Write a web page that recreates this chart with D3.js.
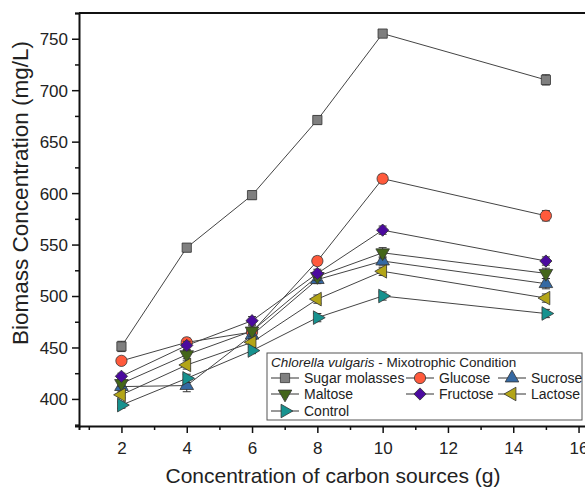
<!DOCTYPE html>
<html>
<head>
<meta charset="utf-8">
<script src="https://cdn.jsdelivr.net/npm/d3@7"></script>
<style>
  body { margin: 0; background: #fff; }
  svg { display: block; font-family: "Liberation Sans", Arial, sans-serif; }
</style>
</head>
<body>
<div id="chart"></div>
<script>
// concentrations (g)
const conc = [2, 4, 6, 8, 10, 15];

const seriesNames = ["Sugar molasses", "Glucose", "Sucrose", "Maltose", "Fructose", "Lactose", "Control"];

const sugarMolasses = [451, 547, 598, 671, 755, 710];
const glucose       = [437, 455, 465, 534, 614, 578];
const sucrose       = [412, 413, 462, 516, 534, 512];
const maltose       = [415, 443, 466, 519, 542, 522];
const fructose      = [422, 452, 476, 522, 564, 534];
const lactose       = [404, 433, 455, 497, 524, 498];
const control       = [394, 420, 447, 479, 500, 483];

const errSugar    = [5, 4, 4, 4, 3, 5];
const errGlucose  = [3, 4, 3, 4, 4, 5];
const errSucrose  = [3, 6, 4, 4, 4, 5];
const errMaltose  = [3, 4, 5, 4, 5, 5];
const errFructose = [3, 4, 4, 4, 4, 4];
const errLactose  = [3, 4, 4, 4, 4, 4];
const errControl  = [3, 4, 3, 4, 4, 4];

const yTicks = [400, 450, 500, 550, 600, 650, 700, 750];
const xTicks = [2, 4, 6, 8, 10, 12, 14, 16];

const W = 585, H = 490;
const m = {left: 79, top: 13, bottom: 64};

const styles = [
    {fill: "#7f7f7f", type: d3.symbolSquare, size: 85, rot: 0},
    {fill: "#ff5a3c", type: d3.symbolCircle, size: 100, rot: 0},
    {fill: "#3569a3", type: d3.symbolTriangle, size: 80, rot: 0},
    {fill: "#44661a", type: d3.symbolTriangle, size: 80, rot: 180},
    {fill: "#4b0a9e", type: d3.symbolSquare, size: 75, rot: 45},
    {fill: "#b3a517", type: d3.symbolTriangle, size: 80, rot: -90},
    {fill: "#17928f", type: d3.symbolTriangle, size: 80, rot: 90}
];

const values = [sugarMolasses, glucose, sucrose, maltose, fructose, lactose, control];
const errs = [errSugar, errGlucose, errSucrose, errMaltose, errFructose, errLactose, errControl];

const data = seriesNames.map((name, i) => ({
    name: name,
    style: styles[i],
    pts: conc.map((c, j) => ({x: c, y: values[i][j], e: errs[i][j]}))
}));

const x = d3.scaleLinear().domain([0.7, 16.5]).range([m.left, m.left + 15.8 * 32.65]);
const y = d3.scaleLinear().domain([373.7, 775]).range([H - m.bottom, m.top]);

const svg = d3.select("#chart").append("svg")
    .attr("width", W)
    .attr("height", H);

// axes
const gx = svg.append("g")
    .attr("transform", "translate(0," + (H - m.bottom) + ")");
gx.call(d3.axisBottom(x).tickValues(d3.range(1, 17, 1)).tickSize(4).tickFormat(""));
gx.call(g => g.selectAll(".tick").filter(d => d % 2 === 0).select("line").attr("y2", 7));
gx.call(g => g.selectAll(".tick text").remove());
gx.selectAll(".tick").filter(d => xTicks.indexOf(d) > -1)
    .append("text")
    .attr("y", 28)
    .attr("text-anchor", "middle")
    .attr("fill", "#222")
    .style("font-size", "17px")
    .text(d => d);

const gy = svg.append("g")
    .attr("transform", "translate(" + m.left + ",0)");
gy.call(d3.axisLeft(y).tickValues(d3.range(375, 776, 25)).tickSize(4).tickFormat(""));
gy.call(g => g.selectAll(".tick").filter(d => yTicks.indexOf(d) > -1).select("line").attr("x2", -7));
gy.selectAll(".tick").filter(d => yTicks.indexOf(d) > -1)
    .append("text")
    .attr("x", -11)
    .attr("dy", "0.35em")
    .attr("text-anchor", "end")
    .attr("fill", "#222")
    .style("font-size", "17px")
    .text(d => d);

svg.selectAll(".domain").attr("stroke", "#111").attr("stroke-width", 2);
svg.selectAll(".tick line").attr("stroke", "#111").attr("stroke-width", 1.5);

// top frame
svg.append("line")
    .attr("x1", m.left).attr("x2", W)
    .attr("y1", m.top).attr("y2", m.top)
    .attr("stroke", "#111").attr("stroke-width", 2);

// axis titles
svg.append("text")
    .attr("x", 333).attr("y", 483)
    .attr("text-anchor", "middle")
    .attr("fill", "#222")
    .style("font-size", "21px")
    .text("Concentration of carbon sources (g)");

svg.append("text")
    .attr("transform", "translate(28," + 193 + ") rotate(-90)")
    .attr("text-anchor", "middle")
    .attr("fill", "#222")
    .style("font-size", "22.5px")
    .text("Biomass Concentration (mg/L)");

// lines
const line = d3.line().x(d => x(d.x)).y(d => y(d.y));
svg.append("g").selectAll("path")
    .data(data)
    .enter()
    .append("path")
    .attr("d", d => line(d.pts))
    .attr("fill", "none")
    .attr("stroke", "#444")
    .attr("stroke-width", 1);

// error bars + markers
const sym = d3.symbol();
data.forEach(s => {
    const g = svg.append("g");
    const eb = g.selectAll(".eb").data(s.pts).enter().append("g").attr("class", "eb");
    eb.append("line")
        .attr("x1", d => x(d.x)).attr("x2", d => x(d.x))
        .attr("y1", d => y(d.y - d.e)).attr("y2", d => y(d.y + d.e))
        .attr("stroke", "#333").attr("stroke-width", 1);
    [-1, 1].forEach(k => {
        eb.append("line")
            .attr("x1", d => x(d.x) - 4).attr("x2", d => x(d.x) + 4)
            .attr("y1", d => y(d.y + k * d.e)).attr("y2", d => y(d.y + k * d.e))
            .attr("stroke", "#333").attr("stroke-width", 1);
    });
    g.selectAll(".mk").data(s.pts).enter().append("path")
        .attr("class", "mk")
        .attr("d", sym.type(s.style.type).size(s.style.size)())
        .attr("transform", d => "translate(" + x(d.x) + "," + y(d.y) + ") rotate(" + s.style.rot + ")")
        .attr("fill", s.style.fill)
        .attr("stroke", "#333")
        .attr("stroke-width", 0.8);
});

// legend
const lg = svg.append("g");
lg.append("rect")
    .attr("x", 267).attr("y", 353)
    .attr("width", 315).attr("height", 67)
    .attr("fill", "#fff")
    .attr("stroke", "#555")
    .attr("stroke-width", 1);

const title = lg.append("text")
    .attr("x", 271).attr("y", 367)
    .attr("fill", "#222")
    .style("font-size", "13.5px");
title.append("tspan").style("font-style", "italic").text("Chlorella vulgaris");
title.append("tspan").text(" - Mixotrophic Condition");

const legendPos = [
    [285, 378], [420, 378], [512, 378],
    [285, 394], [420, 394], [512, 394],
    [285, 411]
];

data.forEach((s, i) => {
    const p = legendPos[i];
    const it = lg.append("g").attr("transform", "translate(" + p[0] + "," + p[1] + ")");
    it.append("line")
        .attr("x1", -14).attr("x2", 14)
        .attr("stroke", "#333").attr("stroke-width", 1);
    it.append("path")
        .attr("d", sym.type(s.style.type).size(s.style.size)())
        .attr("transform", "rotate(" + s.style.rot + ")")
        .attr("fill", s.style.fill)
        .attr("stroke", "#333")
        .attr("stroke-width", 0.8);
    it.append("text")
        .attr("x", 19)
        .attr("dy", "0.35em")
        .attr("fill", "#222")
        .style("font-size", "14px")
        .text(s.name);
});
</script>
</body>
</html>
